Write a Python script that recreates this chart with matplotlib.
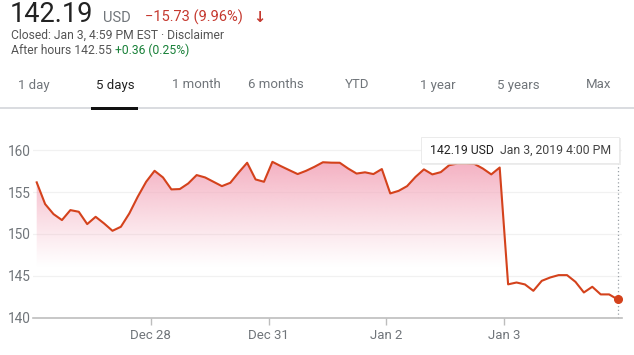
import numpy as np
import matplotlib
matplotlib.use("Agg")
import matplotlib.pyplot as plt
from matplotlib.patches import Rectangle, Polygon
from matplotlib.colors import to_rgb

plt.rcParams['font.family'] = ['Roboto', 'DejaVu Sans']

# ---------------- data ----------------
days = ["Dec 27", "Dec 28", "Dec 31", "Jan 2", "Jan 3"]
dec27 = [156.15, 153.56, 152.36, 151.65, 152.84, 152.64, 151.17, 152.04, 151.25, 150.37, 150.85, 152.44, 154.43, 156.22]
dec28 = [157.53, 156.74, 155.31, 155.35, 156.02, 157.02, 156.74, 156.22, 155.70, 156.10, 157.34, 158.49, 156.50, 156.22]
dec31 = [158.60, 158.09, 157.61, 157.14, 157.53, 158.01, 158.55, 158.50, 158.49, 157.80, 157.20, 157.35, 157.14, 157.74]
jan2 = [154.83, 155.14, 155.70, 156.80, 157.70, 157.10, 157.37, 158.20, 158.40, 158.40, 158.35, 157.80, 157.10, 157.92]
jan3 = [143.98, 144.20, 143.97, 143.21, 144.40, 144.80, 145.08, 145.08, 144.28, 143.01, 143.69, 142.78, 142.78, 142.19]
tick_labels = ["Dec 28", "Dec 31", "Jan 2", "Jan 3"]
y_ticks = [140, 145, 150, 155, 160]
tabs = ["1 day", "5 days", "1 month", "6 months", "YTD", "1 year", "5 years", "Max"]
price_text = "142.19"
change_text = "\u221215.73 (9.96%)"
after_price = "After hours 142.55 "
after_change = "+0.36 (0.25%)"
tooltip_price = "142.19 USD"
tooltip_date = "Jan 3, 2019 4:00 PM"

series = [dec27, dec28, dec31, jan2, jan3]
prices = np.array(sum(series, []))
x = np.arange(len(prices))
day_starts = np.cumsum([0] + [len(s) for s in series[:-1]])

W, H = 634, 355
fig = plt.figure(figsize=(W / 100, H / 100), dpi=100)
fig.patch.set_facecolor("white")


def fx(px):
    return px / W


def fy(py):
    return 1 - py / H


GRAY = "#70757a"
LINE = "#d4421c"

# ---------------- header ----------------
fig.text(fx(10), fy(22), price_text, fontsize=19.5, color="#222222", va="baseline", ha="left")
fig.text(fx(103), fy(22), "USD", fontsize=10.5, color=GRAY, va="baseline", ha="left")
fig.text(fx(145), fy(22), change_text, fontsize=10.5, color="#c5392f", va="baseline", ha="left")
fig.text(fx(253), fy(22), "\u2193", fontsize=10.5, color="#c5392f", va="baseline", ha="left",
         fontweight="bold", family=["DejaVu Sans"])
fig.text(fx(11), fy(35), "Closed: Jan 3, 4:59 PM EST \u00b7 Disclaimer", fontsize=8.7, color="#555555",
         va="center", ha="left")
t = fig.text(fx(11), fy(50), after_price, fontsize=8.7, color="#555555", va="center", ha="left")
fig.canvas.draw()
bb = t.get_window_extent()
fig.text(bb.x1 / W, fy(50), after_change, fontsize=8.7, color="#188038", va="center", ha="left")

# tabs
tab_x = [34, 115, 196, 276, 357, 438, 518, 599]
for lab, tx in zip(tabs, tab_x):
    fig.text(fx(tx), fy(85), lab, fontsize=9.5, ha="center", va="center",
             color="#222222" if lab == "5 days" else GRAY)
fig.add_artist(Rectangle((0, fy(108.5)), 1, 1.2 / H, transform=fig.transFigure,
                         facecolor="#dadce0", edgecolor="none"))
fig.add_artist(Rectangle((fx(91), fy(110)), fx(138) - fx(91), 3 / H, transform=fig.transFigure,
                         facecolor="#111111", edgecolor="none"))

# ---------------- chart ----------------
ax_left, ax_right = 33, 622
ylo, yhi = 140, 161.5
px_per_unit = 8.38
top_px = 317.7 - (yhi - ylo) * px_per_unit
ax = fig.add_axes([fx(ax_left), fy(317.7), (ax_right - ax_left) / W, (317.7 - top_px) / H])
ax.set_facecolor("none")
xmin, xmax = -0.44, len(prices) - 1 + 0.53
ax.set_xlim(xmin, xmax)
ax.set_ylim(ylo, yhi)

# gradient fill under line
n = 300
yy = np.linspace(ylo, yhi, n)
alpha = np.clip((yy - 146.0) / (159.0 - 146.0), 0, 1) ** 1.1
rgb = to_rgb("#f4aec0")
img = np.zeros((n, 2, 4))
img[..., 0], img[..., 1], img[..., 2] = rgb
img[..., 3] = alpha[:, None]
im = ax.imshow(img, extent=[xmin, xmax, ylo, yhi], origin="lower", aspect="auto", zorder=1,
               interpolation="bilinear")
poly = Polygon(np.column_stack([np.r_[x, x[-1], x[0]], np.r_[prices, ylo, ylo]]),
               closed=True, transform=ax.transData, facecolor="none", edgecolor="none")
ax.add_patch(poly)
im.set_clip_path(poly)

# grid
for yv in y_ticks[1:]:
    ax.axhline(yv, color="#f1f1f1", lw=0.9, zorder=0.5)

ax.plot(x, prices, color=LINE, lw=1.5, zorder=3, solid_joinstyle="round")
ax.plot([x[-1]], [prices[-1]], "o", color=LINE, ms=5.5, zorder=4, clip_on=False)

# dotted line from tooltip to axis
ax.plot([x[-1], x[-1]], [ylo, 158.4], ls=(0, (1, 2)), color="#9aa0a6", lw=0.9, zorder=2, clip_on=False)

for s in ["top", "right", "left"]:
    ax.spines[s].set_visible(False)
ax.spines["bottom"].set_color("#bdbdbd")
ax.spines["bottom"].set_linewidth(1.2)

ax.set_yticks(y_ticks)
ax.set_yticklabels([str(v) for v in y_ticks])
ax.tick_params(axis="y", length=0, pad=1.5, labelsize=9.8, labelcolor=GRAY)
ax.set_xticks(day_starts[1:] - 0.45)
ax.set_xticklabels(tick_labels)
ax.tick_params(axis="x", length=5, width=1, color="#bdbdbd", pad=3, labelsize=9.5, labelcolor=GRAY)

# tooltip
fig.add_artist(Rectangle((fx(422), fy(165)), fx(621) - fx(422), 27 / H, transform=fig.transFigure,
                         facecolor="#e2e2e2", edgecolor="none", zorder=9, alpha=0.6))
fig.add_artist(Rectangle((fx(421), fy(163)), fx(619) - fx(421), 26 / H, transform=fig.transFigure,
                         facecolor="white", edgecolor="#e8e8e8", lw=0.6, zorder=10))
tp = fig.text(fx(430), fy(150), tooltip_price, fontsize=8.8, color="#222222", va="center", ha="left", zorder=11)
fig.canvas.draw()
b2 = tp.get_window_extent()
fig.text((b2.x1 + 6) / W, fy(150), tooltip_date, fontsize=8.8, color="#444444", va="center", ha="left",
         zorder=11)

fig.savefig("out.png", dpi=100, facecolor="white")
